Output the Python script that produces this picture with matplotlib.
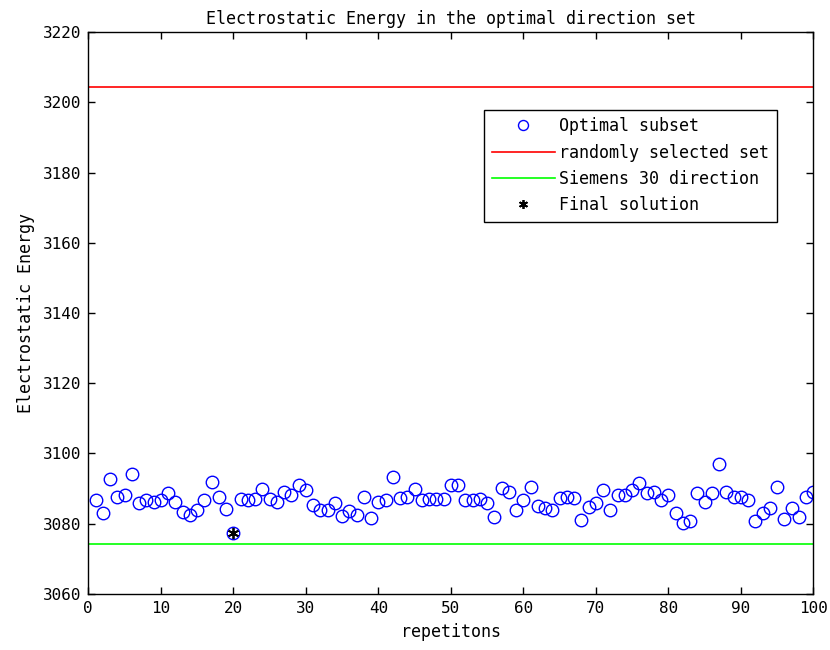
import matplotlib
matplotlib.use("Agg")
import matplotlib.pyplot as plt
import numpy as np

plt.rcParams['font.family'] = ['DejaVu Sans Mono', 'DejaVu Sans']

repetitions = list(range(1, 101))
optimal_subset = [
    3086.7, 3083.1, 3092.7, 3087.6, 3088.1, 3094.1, 3085.8, 3086.7, 3086.2, 3086.7,
    3088.6, 3086.2, 3083.4, 3082.3, 3083.9, 3086.7, 3091.7, 3087.6, 3084.2, 3077.2,
    3087.0, 3086.7, 3087.0, 3089.8, 3087.0, 3086.2, 3089.0, 3088.1, 3091.1, 3089.5,
    3085.3, 3083.9, 3083.9, 3085.9, 3082.1, 3083.7, 3082.4, 3087.6, 3081.5, 3086.2,
    3086.7, 3093.3, 3087.2, 3087.6, 3089.9, 3086.7, 3087.0, 3087.0, 3087.0, 3091.1,
    3091.1, 3086.7, 3086.7, 3087.0, 3085.8, 3081.9, 3090.0, 3089.0, 3083.9, 3086.7,
    3090.5, 3085.0, 3084.5, 3083.9, 3087.2, 3087.6, 3087.2, 3081.0, 3084.8, 3085.8,
    3089.5, 3083.9, 3088.2, 3088.2, 3089.5, 3091.5, 3088.6, 3089.1, 3086.7, 3088.1,
    3083.1, 3080.1, 3080.7, 3088.6, 3086.2, 3088.6, 3097.0, 3089.1, 3087.6, 3087.6,
    3086.7, 3080.7, 3082.9, 3084.3, 3090.5, 3081.2, 3084.3, 3081.9, 3087.6, 3089.1,
]
random_set_energy = 3204.5
siemens_energy = 3074.1
final_x = [20]
final_y = [3077.2]

x_ticks = list(range(0, 101, 10))
y_ticks = list(range(3060, 3221, 20))

fig = plt.figure(figsize=(8.3, 6.5), dpi=100, facecolor="white")
ax = fig.add_axes([0.1064, 0.0866, 0.8735, 0.8637])

ax.plot(repetitions, optimal_subset, linestyle="none", marker="o", markersize=9,
        markerfacecolor="none", markeredgecolor="#0000ff", markeredgewidth=1.0,
        label="Optimal subset")
ax.plot([0, 100], [random_set_energy, random_set_energy], color="#ff0000", lw=1.2,
        label="randomly selected set")
ax.plot([0, 100], [siemens_energy, siemens_energy], color="#00ff00", lw=1.2,
        label="Siemens 30 direction")
ax.plot(final_x, final_y, linestyle="none", marker=(6, 2, 0), markersize=8,
        color="black", markeredgewidth=1.3, label="Final solution")

ax.set_xlim(0, 100)
ax.set_ylim(3060, 3220)
ax.set_xticks(x_ticks)
ax.set_yticks(y_ticks)
ax.tick_params(direction="in", top=True, right=True, length=5, width=1,
               labelsize=11.5, pad=5)
for s in ax.spines.values():
    s.set_linewidth(1.0)

ax.set_title("Electrostatic Energy in the optimal direction set", fontsize=12, pad=6)
ax.set_xlabel("repetitons", fontsize=12, labelpad=5)
ax.set_ylabel("Electrostatic Energy", fontsize=12, labelpad=6)

leg = ax.legend(loc="upper left", bbox_to_anchor=(0.546, 0.862), fontsize=12,
                frameon=True, fancybox=False, edgecolor="black", framealpha=1,
                borderpad=0.45, labelspacing=0.5, handlelength=3.8,
                handletextpad=0.25, borderaxespad=0, markerscale=0.8)
leg.get_frame().set_linewidth(1.0)

fig.savefig("out.png", dpi=100, facecolor="white")
